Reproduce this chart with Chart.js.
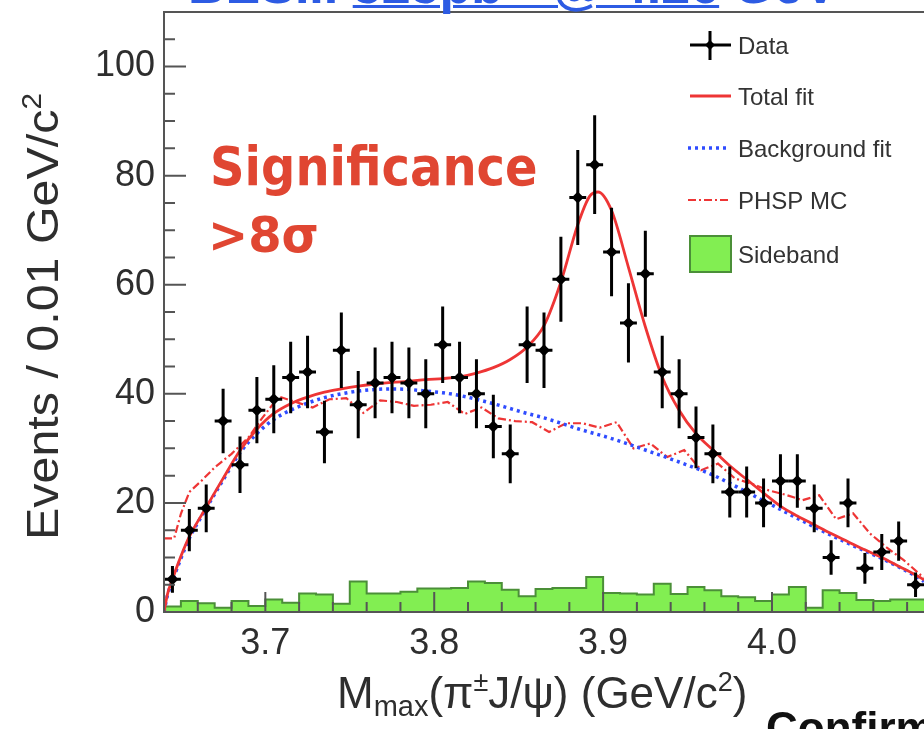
<!DOCTYPE html>
<html>
<head>
<meta charset="utf-8">
<script src="https://cdn.jsdelivr.net/npm/chart.js@4.4.1/dist/chart.umd.min.js"></script>
<style>
  html, body { margin: 0; padding: 0; background: #fff; overflow: hidden; }
  #wrap { position: relative; width: 930px; height: 729px; }
  #banner {
    position: absolute; left: 188px; top: -41px; white-space: nowrap;
    font: bold 52px 'Liberation Sans', Arial, sans-serif; line-height: 52px; color: #2d5be3;
  }
  #banner u { text-decoration-thickness: 3px; text-underline-offset: 2px; }
  #tail {
    position: absolute; left: 766px; top: 706px; white-space: nowrap;
    font: bold 44px 'Liberation Sans', Arial, sans-serif; line-height: 44px; color: #111;
  }
</style>
</head>
<body>
<div id="wrap">
  <canvas id="plot"></canvas>
  <div id="banner">BESIII <u>525pb⁻¹ @ 4.26</u> GeV</div>
  <div id="tail">Confirmed</div>
</div>
<script>
// M_max(pi J/psi) spectrum, bins of 0.01 GeV/c^2

const binCenters = [
  3.645, 3.655, 3.665, 3.675, 3.685, 3.695, 3.705, 3.715, 3.725, 3.735,
  3.745, 3.755, 3.765, 3.775, 3.785, 3.795, 3.805, 3.815, 3.825, 3.835,
  3.845, 3.855, 3.865, 3.875, 3.885, 3.895, 3.905, 3.915, 3.925, 3.935,
  3.945, 3.955, 3.965, 3.975, 3.985, 3.995, 4.005, 4.015, 4.025, 4.035,
  4.045, 4.055, 4.065, 4.075, 4.085,
];
const dataCounts = [
  6, 15, 19, 35, 27, 37, 39, 43, 44, 33,
  48, 38, 42, 43, 42, 40, 49, 43, 40, 34,
  29, 49, 48, 61, 76, 82, 66, 53, 62, 44,
  40, 32, 29, 22, 22, 20, 24, 24, 19, 10,
  20, 8, 11, 13, 5,
];
const sidebandCounts = [
  0.5, 1.0, 2.0, 1.6, 0.8, 2.0, 1.1, 2.3, 1.7, 3.4,
  3.2, 1.5, 5.6, 3.4, 3.4, 3.7, 4.3, 4.3, 4.4, 5.6,
  5.3, 4.1, 2.9, 4.2, 4.4, 4.4, 6.4, 3.5, 3.4, 3.2,
  5.2, 3.3, 4.6, 4.0, 2.9, 2.7, 2.0, 3.2, 4.6, 0.8,
  4.0, 3.5, 2.2, 2.0, 2.3,
];

const totalFitX = [
  3.640, 3.642, 3.645, 3.650, 3.655, 3.665, 3.675, 3.685, 3.695, 3.705,
  3.715, 3.725, 3.735, 3.745, 3.755, 3.765, 3.775, 3.785, 3.795, 3.805,
  3.815, 3.825, 3.835, 3.845, 3.855, 3.865, 3.875, 3.885, 3.892, 3.897,
  3.905, 3.915, 3.925, 3.935, 3.945, 3.955, 3.965, 3.975, 3.985, 3.995,
  4.005, 4.015, 4.025, 4.035, 4.045, 4.055, 4.065, 4.075, 4.085, 4.090,
];
const totalFitY = [
  0, 3.2, 6.0, 10.2, 13.8, 19.2, 24.5, 29.6, 33.5, 36.4,
  38.2, 39.4, 40.3, 40.9, 41.4, 41.8, 42.1, 42.3, 42.6, 42.8,
  43.1, 43.8, 44.8, 46.3, 48.6, 52.5, 60.5, 71.0, 76.2, 77.0,
  73.6, 63.2, 52.3, 43.1, 37.0, 32.7, 29.7, 26.8, 24.3, 21.8,
  19.4, 17.6, 16.0, 14.4, 12.9, 11.4, 10.0, 8.4, 6.8, 5.9,
];

const bkgFitX = [
  3.640, 3.642, 3.645, 3.650, 3.655, 3.665, 3.675, 3.685, 3.695, 3.705,
  3.715, 3.725, 3.735, 3.745, 3.755, 3.765, 3.775, 3.785, 3.795, 3.805,
  3.815, 3.825, 3.835, 3.845, 3.855, 3.865, 3.885, 3.905, 3.925, 3.945,
  3.965, 3.985, 4.005, 4.025, 4.045, 4.065, 4.085, 4.090,
];
const bkgFitY = [
  0, 3.0, 5.7, 9.8, 13.5, 19.0, 24.2, 29.2, 32.7, 35.3,
  37.0, 38.3, 39.3, 40.0, 40.5, 40.8, 40.9, 40.8, 40.5, 40.2,
  39.7, 39.0, 38.2, 37.3, 36.4, 35.6, 33.6, 31.8, 29.7, 27.5,
  25.1, 22.0, 18.8, 15.6, 12.6, 9.8, 6.6, 5.6,
];

const phspX = [
  3.640, 3.646, 3.650, 3.655, 3.662, 3.670, 3.680, 3.690, 3.698, 3.708,
  3.718, 3.728, 3.738, 3.748, 3.758, 3.768, 3.778, 3.788, 3.798, 3.808,
  3.818, 3.828, 3.838, 3.848, 3.858, 3.868, 3.878, 3.888, 3.898, 3.908,
  3.918, 3.928, 3.938, 3.948, 3.958, 3.968, 3.978, 3.988, 3.998, 4.008,
  4.018, 4.028, 4.038, 4.048, 4.058, 4.068, 4.078, 4.088, 4.090,
];
const phspY = [
  13.5, 13.5, 18.0, 22.0, 24.0, 26.5, 29.0, 32.0, 35.5, 39.5,
  38.5, 37.5, 39.0, 39.2, 36.5, 38.8, 38.5, 37.8, 38.0, 38.5,
  36.3, 37.5, 35.5, 35.0, 34.8, 33.0, 34.6, 34.6, 33.8, 34.8,
  30.0, 30.9, 28.4, 29.7, 26.0, 27.2, 24.5, 23.5, 22.3, 21.5,
  20.5, 21.4, 17.0, 18.1, 14.4, 11.8, 9.5, 6.8, 6.4,
];

const xTickValues = [3.7, 3.8, 3.9, 4.0];
const yTickValues = [0, 20, 40, 60, 80, 100];
const legendLabels = ['Data', 'Total fit', 'Background fit', 'PHSP MC', 'Sideband'];

const FONT = "'Liberation Sans', Arial, sans-serif";
const INK = '#2e2e2e';
const AXIS = '#555555';
const RED = '#ee3535';
const BLUE = '#2f4cff';
const GREEN = '#82ee52';
const GREEN_EDGE = '#4b8f38';
const SIG_RED = '#e04632';
const HALF_BIN = 0.005;

const zip = (xs, ys) => xs.map((x, i) => ({ x, y: ys[i] }));

const sidebandSteps = binCenters.map((c, i) => ({ x: c - HALF_BIN, y: sidebandCounts[i] }));
sidebandSteps.push({ x: binCenters[binCenters.length - 1] + HALF_BIN, y: sidebandCounts[sidebandCounts.length - 1] });

// Poisson error bars and full-bin horizontal bars under the data markers
const errorBars = {
  id: 'errorBars',
  beforeDatasetDraw(chart, args) {
    if (args.index !== 0) return;
    const { ctx, scales: { x, y } } = chart;
    ctx.save();
    ctx.strokeStyle = '#000';
    ctx.lineWidth = 3;
    binCenters.forEach((c, i) => {
      const n = dataCounts[i];
      const err = Math.sqrt(n);
      const px = x.getPixelForValue(c);
      const py = y.getPixelForValue(n);
      ctx.beginPath();
      ctx.moveTo(px, y.getPixelForValue(n + err));
      ctx.lineTo(px, y.getPixelForValue(Math.max(n - err, 0)));
      ctx.moveTo(x.getPixelForValue(c - HALF_BIN), py);
      ctx.lineTo(x.getPixelForValue(c + HALF_BIN), py);
      ctx.stroke();
    });
    ctx.restore();
  },
};

function drawLineSample(ctx, x0, x1, yy, color, width, dash) {
  ctx.save();
  ctx.strokeStyle = color;
  ctx.lineWidth = width;
  ctx.setLineDash(dash);
  ctx.beginPath();
  ctx.moveTo(x0, yy);
  ctx.lineTo(x1, yy);
  ctx.stroke();
  ctx.restore();
}

// ROOT-style frame, inward ticks, titles, annotation and legend
const decorations = {
  id: 'decorations',
  afterDatasetsDraw(chart) {
    const { ctx, chartArea: area, scales: { x, y } } = chart;
    ctx.save();

    // frame
    ctx.strokeStyle = AXIS;
    ctx.lineWidth = 2;
    ctx.beginPath();
    ctx.moveTo(area.right + 2, area.top);
    ctx.lineTo(area.left, area.top);
    ctx.lineTo(area.left, area.bottom);
    ctx.lineTo(area.right + 2, area.bottom);
    ctx.stroke();

    // y ticks
    ctx.beginPath();
    for (let v = 0; v <= 110; v += 5) {
      const py = y.getPixelForValue(v);
      const len = v % 20 === 0 ? 22 : 11;
      ctx.moveTo(area.left, py);
      ctx.lineTo(area.left + len, py);
    }
    // x ticks
    for (let k = 0; k <= 22; k++) {
      const v = 3.64 + k * 0.02;
      const px = x.getPixelForValue(v);
      const major = xTickValues.some((t) => Math.abs(t - v) < 1e-6);
      ctx.moveTo(px, area.bottom);
      ctx.lineTo(px, area.bottom - (major ? 20 : 10));
    }
    ctx.stroke();

    // x title: M_max(pi^{+-}J/psi) (GeV/c^2)
    ctx.fillStyle = INK;
    ctx.textBaseline = 'alphabetic';
    ctx.textAlign = 'left';
    const pieces = [
      { t: 'M', size: 44, dy: 0 },
      { t: 'max', size: 29, dy: 8 },
      { t: '(π', size: 44, dy: 0 },
      { t: '±', size: 27, dy: -17 },
      { t: 'J/ψ) (GeV/c', size: 44, dy: 0 },
      { t: '2', size: 27, dy: -17 },
      { t: ')', size: 44, dy: 0 },
    ];
    let cx = 337;
    pieces.forEach((p) => {
      ctx.font = `${p.size}px ${FONT}`;
      ctx.fillText(p.t, cx, 708 + p.dy);
      cx += ctx.measureText(p.t).width;
    });

    // y title: Events / 0.01 GeV/c^2
    ctx.save();
    ctx.translate(58, 540);
    ctx.rotate(-Math.PI / 2);
    ctx.scale(1.1, 1);
    ctx.font = `44px ${FONT}`;
    ctx.fillText('Events / 0.01 GeV/c', 0, 0);
    const yw = ctx.measureText('Events / 0.01 GeV/c').width;
    ctx.font = `27px ${FONT}`;
    ctx.fillText('2', yw, -17);
    ctx.restore();

    // significance annotation
    ctx.fillStyle = SIG_RED;
    ctx.font = `bold 48px 'DejaVu Sans', Verdana, sans-serif`;
    ctx.save();
    ctx.translate(210, 185);
    ctx.scale(1, 1.12);
    ctx.fillText('Significance', 0, 0);
    ctx.restore();
    ctx.save();
    ctx.translate(208, 252);
    ctx.scale(1, 1.05);
    ctx.fillText('>8σ', 0, 0);
    ctx.restore();

    // legend
    const rows = [45, 96, 148, 200, 254];
    ctx.strokeStyle = '#000';
    ctx.lineWidth = 3;
    ctx.beginPath();
    ctx.moveTo(690, rows[0]);
    ctx.lineTo(731, rows[0]);
    ctx.moveTo(710, 31);
    ctx.lineTo(710, 60);
    ctx.stroke();
    ctx.fillStyle = '#000';
    ctx.beginPath();
    ctx.moveTo(710, rows[0] - 5);
    ctx.lineTo(715, rows[0]);
    ctx.lineTo(710, rows[0] + 5);
    ctx.lineTo(705, rows[0]);
    ctx.closePath();
    ctx.fill();
    drawLineSample(ctx, 690, 731, rows[1], RED, 2.8, []);
    drawLineSample(ctx, 688, 728, rows[2], BLUE, 3.5, [3, 4]);
    drawLineSample(ctx, 688, 728, rows[3], RED, 2.2, [8, 3, 2, 3]);
    ctx.fillStyle = GREEN;
    ctx.fillRect(690, 236, 41, 36);
    ctx.strokeStyle = GREEN_EDGE;
    ctx.lineWidth = 2;
    ctx.strokeRect(690, 236, 41, 36);

    ctx.fillStyle = '#333';
    ctx.font = `24px ${FONT}`;
    ctx.textBaseline = 'middle';
    legendLabels.forEach((label, i) => {
      ctx.fillText(label, 738, rows[i] + 2);
    });

    ctx.restore();
  },
};

new Chart(document.getElementById('plot'), {
  type: 'scatter',
  data: {
    datasets: [
      {
        label: legendLabels[0],
        data: zip(binCenters, dataCounts),
        pointStyle: 'rectRot',
        pointRadius: 6,
        backgroundColor: '#000',
        borderColor: '#000',
        borderWidth: 0,
        order: 0,
      },
      {
        type: 'line',
        label: legendLabels[1],
        data: zip(totalFitX, totalFitY),
        borderColor: RED,
        borderWidth: 2.8,
        pointRadius: 0,
        cubicInterpolationMode: 'monotone',
        fill: false,
        order: 1,
      },
      {
        type: 'line',
        label: legendLabels[2],
        data: zip(bkgFitX, bkgFitY),
        borderColor: BLUE,
        borderWidth: 3.5,
        borderDash: [3, 4],
        pointRadius: 0,
        cubicInterpolationMode: 'monotone',
        fill: false,
        order: 2,
      },
      {
        type: 'line',
        label: legendLabels[3],
        data: zip(phspX, phspY),
        borderColor: RED,
        borderWidth: 2.2,
        borderDash: [8, 3, 2, 3],
        pointRadius: 0,
        tension: 0,
        fill: false,
        order: 3,
      },
      {
        type: 'line',
        label: legendLabels[4],
        data: sidebandSteps,
        stepped: 'after',
        borderColor: GREEN_EDGE,
        borderWidth: 2,
        backgroundColor: GREEN,
        fill: 'origin',
        pointRadius: 0,
        order: 4,
      },
    ],
  },
  options: {
    animation: false,
    responsive: true,
    maintainAspectRatio: false,
    layout: { padding: { top: 12, right: 5, left: 0, bottom: 0 } },
    plugins: {
      legend: { display: false },
      tooltip: { enabled: false },
    },
    scales: {
      x: {
        type: 'linear',
        min: 3.64,
        max: 4.09,
        grid: { display: false, drawTicks: false },
        border: { display: false },
        afterBuildTicks: (scale) => { scale.ticks = xTickValues.map((v) => ({ value: v })); },
        afterFit: (scale) => {
          scale.height = 117;
          scale.paddingLeft = 0;
          scale.paddingRight = 0;
        },
        ticks: {
          font: { family: FONT, size: 36 },
          color: INK,
          padding: 10,
          maxRotation: 0,
          autoSkip: false,
          callback: (value) => Number(value).toFixed(1),
        },
      },
      y: {
        type: 'linear',
        min: 0,
        max: 110,
        grid: { display: false, drawTicks: false },
        border: { display: false },
        afterBuildTicks: (scale) => { scale.ticks = yTickValues.map((v) => ({ value: v })); },
        afterFit: (scale) => {
          scale.width = 164;
          scale.paddingTop = 0;
          scale.paddingBottom = 0;
        },
        ticks: {
          font: { family: FONT, size: 36 },
          color: INK,
          padding: 9,
          autoSkip: false,
          callback: (value) => String(value),
        },
      },
    },
  },
  plugins: [errorBars, decorations],
});
</script>
</body>
</html>
